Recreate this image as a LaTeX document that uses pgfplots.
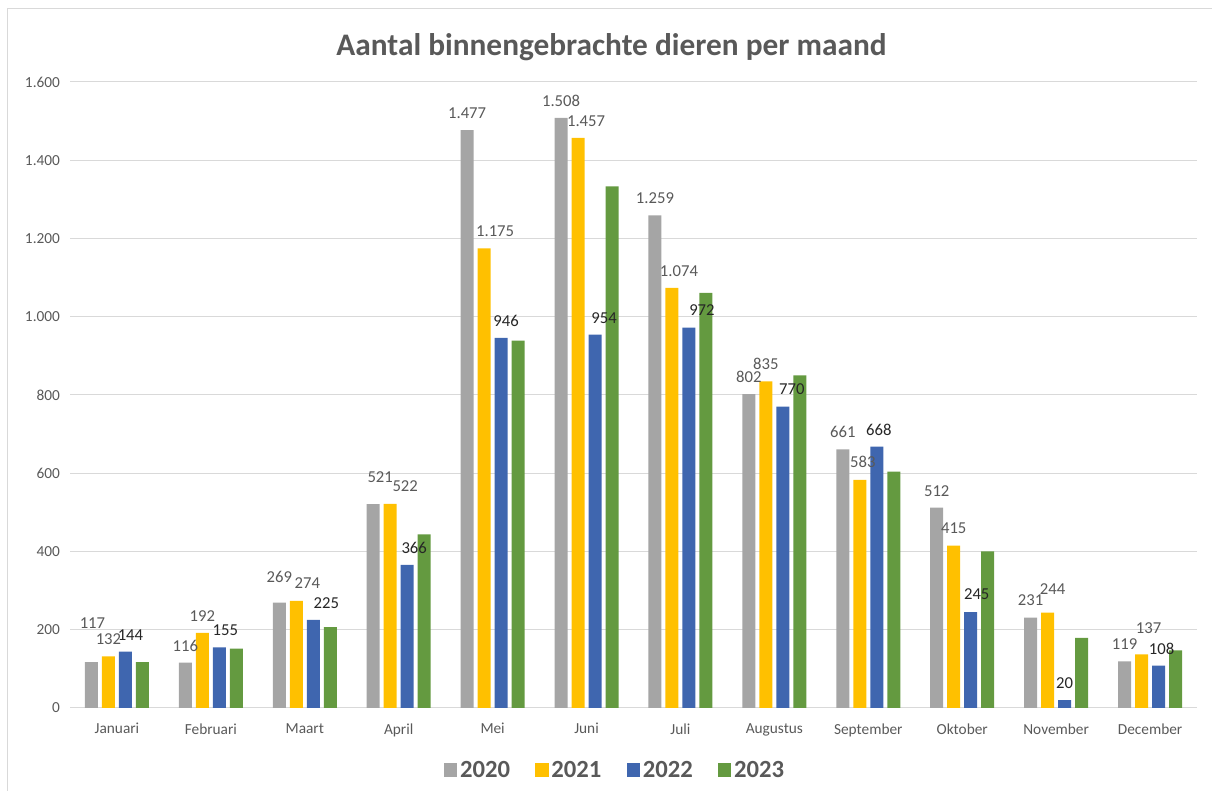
\documentclass[border=0pt]{standalone}
\usepackage{fontspec}
\setmainfont{Carlito}
\usepackage{pgfplots}
\usepackage{pgfplotstable}
\pgfplotsset{compat=1.18}
\definecolor{c20}{HTML}{A5A5A5}
\definecolor{c21}{HTML}{FFC000}
\definecolor{c22}{HTML}{3F66AF}
\definecolor{c23}{HTML}{649A40}
\definecolor{txt}{HTML}{595959}
\definecolor{gridc}{HTML}{D9D9D9}
\pgfplotsset{sq legend/.style={legend image code/.code={\fill[##1] (0pt,-5pt) rectangle (10pt,5pt);}}}
% dx, dy: label offsets in px (Excel's overlap avoidance)
\pgfplotstableread{
x y dx dy
0 117 1 22
1 116 0 0
2 269 0 9
3 521 7 10
4 1477 0 0
5 1508 0 0
6 1259 0 0
7 802 0 0
8 661 0 0
9 512 0 0
10 231 0 0
11 119 0 0
}\tA
\pgfplotstableread{
x y dx dy
0 132 0 0
1 192 0 0
2 274 11 1
3 522 15 1
4 1175 11 0
5 1457 8 0
6 1074 7 0
7 835 0 0
8 583 3 1
9 415 0 0
10 244 5 6
11 137 7 9
}\tB
\pgfplotstableread{
x y dx dy
0 144 5 0
1 155 6 0
2 225 13 0
3 366 7 0
4 946 5 0
5 954 9 0
6 972 13 1
7 770 9 1
8 668 2 0
9 245 6 1
10 20 0 0
11 108 3 0
}\tC
\pgfplotstableread{
x y
0 117
1 152
2 207
3 444
4 939
5 1333
6 1061
7 850
8 604
9 400
10 179
11 147
}\tD
\begin{document}
\begin{tikzpicture}[x=1pt,y=1pt]
\useasboundingbox (0,0) rectangle (909,593.25);
\draw[color=gridc,line width=0.75pt] (5.25,0) -- (5.25,586.5) -- (909,586.5);
\begin{axis}[
  at={(52.5pt,62.25pt)}, anchor=south west,
  scale only axis, width=845.25pt, height=469.5pt,
  ymin=0, ymax=1600, ytick={0,200,...,1600},
  xmin=-0.5, xmax=11.5, xtick={0,...,11},
  xticklabels={Januari,Februari,Maart,April,Mei,Juni,Juli,Augustus,September,Oktober,November,December},
  ymajorgrids, grid style={color=gridc, line width=0.75pt},
  axis line style={draw=none}, major tick length=0pt,
  tick label style={font=\fontsize{11.5}{13}\selectfont, color=txt},
  xticklabel style={yshift=-8pt},
  yticklabel style={xshift=-4pt},
  /pgf/number format/.cd, 1000 sep={.}, assume math mode=true, /pgfplots/.cd,
  ybar=3pt, bar width=9.75pt,
  title={Aantal binnengebrachte dieren per maand},
  title style={font=\bfseries\fontsize{23.5}{28}\selectfont, color=txt, at={(0.4805,1)}, anchor=center, yshift=20pt},
  legend columns=4,
  legend style={draw=none, fill=none, at={(0.484,-0.099)}, anchor=center,
    font=\bfseries\fontsize{18.5}{22}\selectfont, text=txt,
    /tikz/every even column/.append style={column sep=17pt}},
  lbl/.style={nodes near coords,
    visualization depends on={0.75*\thisrow{dx} \as \dx},
    visualization depends on={12.75+0.75*\thisrow{dy} \as \dy},
    nodes near coords style={font=\fontsize{12.5}{14}\selectfont, color=#1, anchor=center, inner sep=1pt, xshift=\dx pt, yshift=\dy pt}},
]
\addplot[fill=c20, draw=none, sq legend, lbl=txt] table[x=x,y=y] {\tA};
\addplot[fill=c21, draw=none, sq legend, lbl=txt] table[x=x,y=y] {\tB};
\addplot[fill=c22, draw=none, sq legend, lbl=black!85] table[x=x,y=y] {\tC};
\addplot[fill=c23, draw=none, sq legend] table[x=x,y=y] {\tD};
\legend{2020,2021,2022,2023}
\end{axis}
\end{tikzpicture}
\end{document}
